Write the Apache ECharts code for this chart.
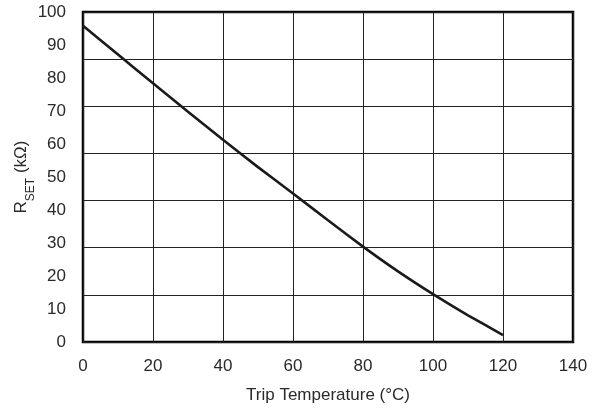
<!DOCTYPE html>
<html>
<head>
<meta charset="utf-8">
<script src="https://cdn.jsdelivr.net/npm/echarts@6/dist/echarts.min.js"></script>
<style>
html,body{margin:0;padding:0;background:#fff;}
#chart{width:598px;height:411px;}
</style>
</head>
<body>
<div id="chart"></div>
<script>
const tripTemp = [0, 10, 20, 30, 40, 50, 60, 70, 80, 90, 100, 110, 120];
const rset = [95.8, 87.1, 78.4, 69.8, 61.3, 53.0, 45.0, 36.9, 28.9, 21.4, 14.5, 8.1, 2.1];
const xTicks = [0, 20, 40, 60, 80, 100, 120, 140];
const yTicks = [0, 10, 20, 30, 40, 50, 60, 70, 80, 90, 100];
const hGridDivisions = 7;

const chart = echarts.init(document.getElementById('chart'));
const font = 'Liberation Sans, Arial, sans-serif';
const txt = '#2a2a2a';
chart.setOption({
  animation: false,
  backgroundColor: '#fff',
  grid: {left: 83, right: 25, top: 12, bottom: 69, containLabel: false, outerBoundsMode: 'none',
    show: true, borderColor: '#000', borderWidth: 2.5, backgroundColor: 'transparent'},
  xAxis: {
    type: 'value', min: xTicks[0], max: xTicks[xTicks.length - 1], interval: xTicks[1] - xTicks[0],
    name: 'Trip Temperature (°C)', nameLocation: 'middle', nameGap: 45, nameMoveOverlap: false,
    nameTextStyle: {fontFamily: font, fontSize: 17, color: txt},
    axisLine: {show: false}, axisTick: {show: false},
    axisLabel: {fontFamily: font, fontSize: 17, color: txt, margin: 16},
    splitLine: {show: true, lineStyle: {color: '#222', width: 1}}
  },
  yAxis: [{
    type: 'value', min: yTicks[0], max: yTicks[yTicks.length - 1], interval: yTicks[1] - yTicks[0],
    name: '{r|R}{s|SET}{r| (kΩ)}', nameLocation: 'middle', nameGap: 50, nameMoveOverlap: false,
    nameTextStyle: {fontFamily: font, color: txt,
      rich: {
        r: {fontFamily: font, fontSize: 17, color: txt, lineHeight: 24, verticalAlign: 'middle'},
        s: {fontFamily: font, fontSize: 12, color: txt, lineHeight: 24, verticalAlign: 'bottom', padding: [0, 0, -4, 0]}
      }},
    axisLine: {show: false}, axisTick: {show: false},
    axisLabel: {fontFamily: font, fontSize: 17, color: txt, margin: 17},
    splitLine: {show: false}
  }, {
    type: 'value', min: 0, max: hGridDivisions, interval: 1, position: 'left',
    axisLine: {show: false}, axisTick: {show: false}, axisLabel: {show: false},
    splitLine: {show: true, lineStyle: {color: '#222', width: 1}}
  }],
  series: [{
    type: 'line', yAxisIndex: 0, showSymbol: false, smooth: 0.15,
    data: tripTemp.map((t, i) => [t, rset[i]]),
    lineStyle: {color: '#1a1a1a', width: 2.6}, z: 5
  }]
});
</script>
</body>
</html>
